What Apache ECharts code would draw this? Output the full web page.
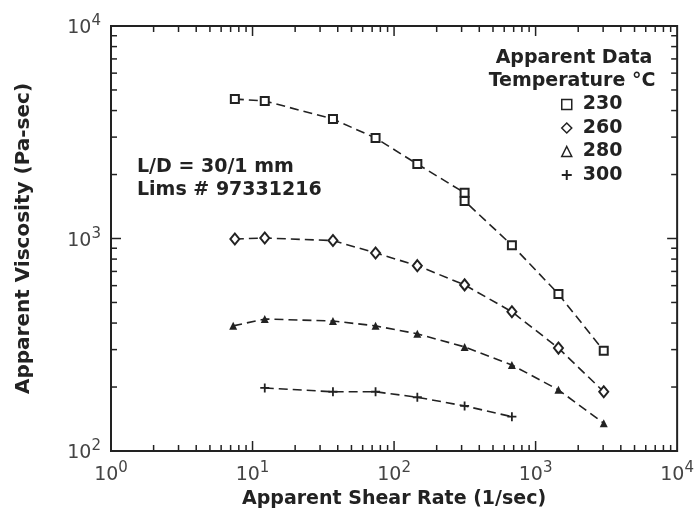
<!DOCTYPE html>
<html><head><meta charset="utf-8">
<script src="https://cdn.jsdelivr.net/npm/echarts@6/dist/echarts.min.js"></script>
<style>html,body{margin:0;padding:0;background:#fff}#c{width:697px;height:518px}</style>
</head><body><div id="c"></div>
<script>
var seriesNames = ['230', '260', '280', '300'];
var shear230 = [7.5, 12.2, 37, 74, 146, 315, 315, 680, 1450, 3030];
var visc230  = [4530, 4440, 3650, 2970, 2240, 1640, 1500, 930, 548, 296];
var shear260 = [7.5, 12.2, 37, 74, 146, 315, 680, 1450, 3030];
var visc260  = [995, 1005, 978, 855, 745, 605, 452, 305, 190];
var shear280 = [7.3, 12.2, 37, 74, 146, 315, 680, 1450, 3030];
var visc280  = [388, 418, 409, 388, 356, 309, 254, 194, 135];
var shear300 = [12.2, 37, 74, 146, 315, 680];
var visc300  = [198, 190, 190, 179, 163, 145];
var xDecades = [1, 10, 100, 1000, 10000];
var yDecades = [100, 1000, 10000];

function pairs(xs, ys){ return xs.map(function(x,i){ return [x, ys[i]]; }); }
function minorTicks(decades){
  var out = [];
  for (var i = 0; i < decades.length - 1; i++) {
    for (var m = 2; m <= 9; m++) out.push(decades[i] * m);
    if (i > 0) out.push(decades[i]);
  }
  return out;
}
var xTicks = minorTicks(xDecades).map(function(v){ return [v, 100]; });
var yTicks = minorTicks(yDecades).map(function(v){ return [1, v]; });

var plusPath = 'path://M4,0H6V4H10V6H6V10H4V6H0V4H4Z';
var ink = '#222';

function tickRender(isX){
  return function(params, api){
    var cs = params.coordSys;
    var v = api.value(isX ? 0 : 1);
    var p = api.coord([api.value(0), api.value(1)]);
    var lg = Math.log10(v);
    var major = Math.abs(lg - Math.round(lg)) < 1e-9;
    var L = major ? 10 : 6;
    var st = {stroke: ink, lineWidth: 1.5};
    if (isX) {
      var b = cs.y + cs.height, t = cs.y;
      return {type:'group', children:[
        {type:'line', shape:{x1:p[0], y1:b, x2:p[0], y2:b-L}, style:st},
        {type:'line', shape:{x1:p[0], y1:t, x2:p[0], y2:t+L}, style:st}
      ]};
    } else {
      var l = cs.x, r = cs.x + cs.width;
      return {type:'group', children:[
        {type:'line', shape:{x1:l, y1:p[1], x2:l+L, y2:p[1]}, style:st},
        {type:'line', shape:{x1:r, y1:p[1], x2:r-L, y2:p[1]}, style:st}
      ]};
    }
  };
}

function expLabel(v){
  var e = Math.round(Math.log10(v));
  return '{m|10}{e|' + e + '}';
}
var labelRich = {
  m: {fontSize: 19, fontFamily: 'DejaVu Sans', color: '#444', lineHeight: 24, verticalAlign: 'bottom'},
  e: {fontSize: 15, fontFamily: 'DejaVu Sans', color: '#444', lineHeight: 15, verticalAlign: 'top'}
};
var dash = [9, 5];
var boldFont = 'bold 19px "DejaVu Sans"';

var chart = echarts.init(document.getElementById('c'), null, {renderer: 'canvas'});
chart.setOption({
  backgroundColor: '#fff',
  animation: false,
  grid: {left: 111, right: 15, top: 26, bottom: 67, show: true, borderColor: ink, borderWidth: 2, backgroundColor: 'transparent'},
  xAxis: {
    type: 'log', logBase: 10, min: 1, max: 10000,
    name: 'Apparent Shear Rate (1/sec)', nameLocation: 'middle', nameGap: 37,
    nameTextStyle: {fontFamily: 'DejaVu Sans', fontWeight: 'bold', fontSize: 19, color: ink},
    axisLine: {show: true, lineStyle: {color: ink, width: 2}},
    axisTick: {show: false}, splitLine: {show: false},
    axisLabel: {margin: 10, formatter: expLabel, rich: labelRich}
  },
  yAxis: {
    type: 'log', logBase: 10, min: 100, max: 10000,
    name: 'Apparent Viscosity (Pa-sec)', nameLocation: 'middle', nameGap: 77,
    nameTextStyle: {fontFamily: 'DejaVu Sans', fontWeight: 'bold', fontSize: 20, color: ink},
    axisLine: {show: true, lineStyle: {color: ink, width: 2}},
    axisTick: {show: false}, splitLine: {show: false},
    axisLabel: {margin: 10, formatter: expLabel, rich: labelRich}
  },
  legend: {
    orient: 'vertical', left: 561, top: 95, itemWidth: 10, itemHeight: 10, itemGap: 4.5,
    selectedMode: false, padding: 0,
    textStyle: {fontFamily: 'DejaVu Sans', fontWeight: 'bold', fontSize: 19, color: ink, lineHeight: 18, padding: [0,0,0,6]},
    data: [
      {name: '230', icon: 'rect', itemStyle: {color: '#fff', borderColor: ink, borderWidth: 1.5}},
      {name: '260', icon: 'diamond', itemStyle: {color: '#fff', borderColor: ink, borderWidth: 1.5}},
      {name: '280', icon: 'triangle', itemStyle: {color: '#fff', borderColor: ink, borderWidth: 1.5}},
      {name: '300', icon: plusPath, itemStyle: {color: ink, borderWidth: 0}}
    ]
  },
  graphic: [
    {type: 'text', x: 137, y: 167, style: {text: 'L/D = 30/1 mm', font: boldFont, fill: ink, align: 'left', verticalAlign: 'middle'}},
    {type: 'text', x: 137, y: 190, style: {text: 'Lims # 97331216', font: boldFont, fill: ink, align: 'left', verticalAlign: 'middle'}},
    {type: 'text', x: 574, y: 58, style: {text: 'Apparent Data', font: boldFont, fill: ink, align: 'center', verticalAlign: 'middle'}},
    {type: 'text', x: 572, y: 81, style: {text: 'Temperature °C', font: boldFont, fill: ink, align: 'center', verticalAlign: 'middle'}}
  ],
  series: [
    {name: seriesNames[0], type: 'line', data: pairs(shear230, visc230), symbol: 'emptyRect', symbolSize: 8,
     itemStyle: {color: ink, borderWidth: 1.5}, lineStyle: {color: ink, width: 1.6, type: dash}, z: 3},
    {name: seriesNames[1], type: 'line', data: pairs(shear260, visc260), symbol: 'emptyDiamond', symbolSize: [9, 11],
     itemStyle: {color: ink, borderWidth: 1.5}, lineStyle: {color: ink, width: 1.6, type: dash}, z: 3},
    {name: seriesNames[2], type: 'line', data: pairs(shear280, visc280), symbol: 'triangle', symbolSize: 8,
     itemStyle: {color: ink}, lineStyle: {color: ink, width: 1.6, type: dash}, z: 3},
    {name: seriesNames[3], type: 'line', data: pairs(shear300, visc300), symbol: plusPath, symbolSize: 9,
     itemStyle: {color: ink}, lineStyle: {color: ink, width: 1.6, type: dash}, z: 3},
    {name: 'xticks', type: 'custom', data: xTicks, renderItem: tickRender(true), silent: true, clip: false, z: 2},
    {name: 'yticks', type: 'custom', data: yTicks, renderItem: tickRender(false), silent: true, clip: false, z: 2}
  ]
});
</script></body></html>
